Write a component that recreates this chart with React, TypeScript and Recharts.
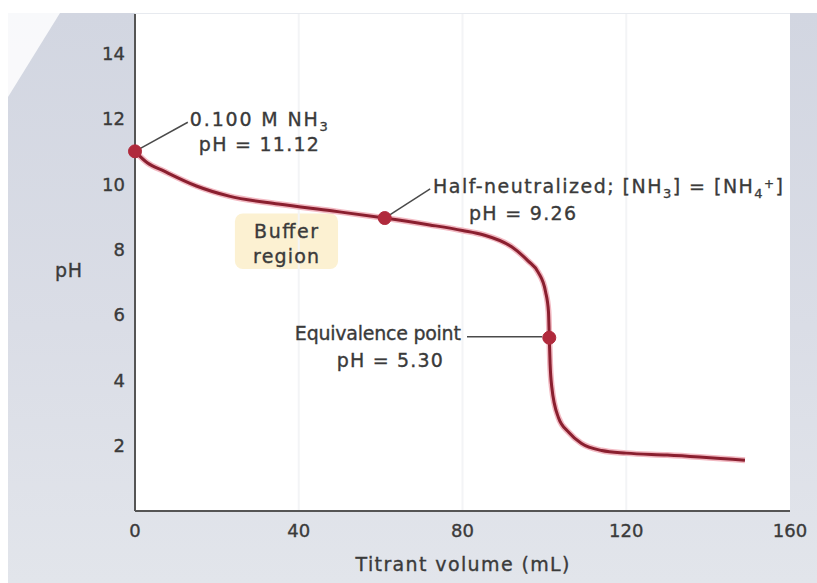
import React from "react";
import {
  LineChart,
  Line,
  XAxis,
  YAxis,
  CartesianGrid,
  ReferenceDot,
  ReferenceLine,
  ReferenceArea,
} from "recharts";

// titration curve (mL of titrant, pH)
const volume = [0, 3, 7, 15, 23, 35, 48, 61, 72, 80, 85, 92, 96, 98.5, 100.3, 101, 101.2, 101.4, 101.8, 103.4, 106, 109, 114, 120, 130, 149];
const ph = [11.0, 10.65, 10.4, 9.94, 9.63, 9.39, 9.18, 8.96, 8.75, 8.58, 8.45, 8.08, 7.65, 7.3, 6.7, 6.1, 5.3, 4.5, 3.8, 2.87, 2.4, 2.07, 1.85, 1.77, 1.71, 1.55];

// marked points: start, half-neutralized, equivalence
const keyVolume = [0, 61, 101.2];
const keyPh = [11.0, 8.96, 5.3];

const xTicks = [0, 40, 80, 120, 160];
const yTicks = [2, 4, 6, 8, 10, 12, 14];

const data = volume.map((v, i) => ({ v, ph: ph[i] }));

const FONT = "'DejaVu Sans', Verdana, sans-serif";
const TEXT = "#3a3a3a";
const CURVE = "#8a1f2f";
const DOT = "#b02a3c";
const LEADER = "#4a4a4a";

const txt = {
  fontFamily: FONT,
  fontSize: 19,
  fill: TEXT,
  stroke: TEXT,
  strokeWidth: 0.35,
  lengthAdjust: "spacing",
} as const;

const Label1 = (p: any) => (
  <g>
    <text x={p.cx} y={p.cy} textLength={138} {...txt}>
      0.100 M NH<tspan dy={5} fontSize={13}>3</tspan>
    </text>
    <text x={p.cx + 9} y={p.cy + 25} textLength={120} {...txt}>pH = 11.12</text>
  </g>
);

const Label2 = (p: any) => (
  <g>
    <text x={p.cx} y={p.cy} textLength={350} {...txt}>
      Half-neutralized; [NH<tspan dy={5} fontSize={13}>3</tspan>
      <tspan dy={-5}>] = [NH</tspan>
      <tspan dy={5} fontSize={13}>4</tspan>
      <tspan dy={-10} fontSize={12}>+</tspan>
      <tspan dy={5}>]</tspan>
    </text>
    <text x={p.cx + 36} y={p.cy + 27} textLength={107} {...txt}>pH = 9.26</text>
  </g>
);

const Label3 = (p: any) => (
  <g>
    <text x={p.cx} y={p.cy} textAnchor="end" textLength={166} {...txt}>Equivalence point</text>
    <text x={p.cx - 18} y={p.cy + 27} textAnchor="end" textLength={106} {...txt}>pH = 5.30</text>
  </g>
);

const BufferLabel = (p: any) => (
  <g>
    <text x={p.cx} y={p.cy} textAnchor="middle" textLength={64} {...txt}>Buffer</text>
    <text x={p.cx} y={p.cy + 25} textAnchor="middle" textLength={66} {...txt}>region</text>
  </g>
);

const XTitle = (p: any) => {
  const vb = p.viewBox || {};
  return (
    <text x={vb.x + vb.width / 2} y={vb.y + vb.height - 12} textAnchor="middle" textLength={214} {...txt}>
      Titrant volume (mL)
    </text>
  );
};

const YTitle = (p: any) => {
  const vb = p.viewBox || {};
  return (
    <text x={47} y={vb.y + vb.height / 2 + 14} textLength={27} {...txt}>
      pH
    </text>
  );
};

const XTick = (p: any) => (
  <text x={p.x} y={p.y} dy="0.71em" textAnchor="middle" fontFamily={FONT} fontSize={18} fill={TEXT} stroke={TEXT} strokeWidth={0.35}>
    {p.payload.value}
  </text>
);

const YTick = (p: any) => (
  <text x={p.x} y={p.y} dy="0.36em" textAnchor="end" fontFamily={FONT} fontSize={18} fill={TEXT} stroke={TEXT} strokeWidth={0.35}>
    {p.payload.value}
  </text>
);

const App = () => {
  return (
    <div
      style={{
        position: "absolute",
        left: 8,
        top: 13,
        width: 809,
        height: 570,
        background: "linear-gradient(180deg, #d2d6e1 0%, #dadde6 55%, #e2e5eb 100%)",
      }}
    >
      <svg width={809} height={570} style={{ position: "absolute", left: 0, top: 0 }}>
        <polygon points="0,0 52,0 0,84" fill="#ffffff" opacity={0.85} />
      </svg>
      <div style={{ position: "absolute", left: 0, top: 0 }}>
        <LineChart width={809} height={570} data={data} margin={{ top: 1, right: 27, left: 0, bottom: 0 }}>
          <ReferenceArea x1={0} x2={160} y1={0} y2={15.2} fill="#ffffff" fillOpacity={1} stroke="none" />
          <CartesianGrid stroke="#eef0f3" strokeWidth={1.5} horizontal vertical={false} />
          <XAxis
            dataKey="v"
            type="number"
            domain={[0, 160]}
            ticks={xTicks}
            tickLine={false}
            tickMargin={7}
            axisLine={{ stroke: "#555", strokeWidth: 2 }}
            tick={XTick}
            height={72}
            label={{ value: "Titrant volume (mL)", content: XTitle }}
          />
          <YAxis
            type="number"
            domain={[0, 15.2]}
            ticks={yTicks}
            tickLine={false}
            tickMargin={4}
            axisLine={{ stroke: "#555", strokeWidth: 2 }}
            tick={YTick}
            width={127}
            label={{ value: "pH", content: YTitle }}
          />
          {[40, 80, 120].map((v) => (
            <ReferenceLine key={v} x={v} stroke="#f3f4f6" strokeWidth={2} />
          ))}
          <ReferenceArea x1={24.4} x2={49.6} y1={7.4} y2={9.1} fill="#fcf1d2" fillOpacity={1} stroke="none" radius={8} />
          <ReferenceDot x={36.9} y={8.35} r={0} shape={BufferLabel} />

          <ReferenceLine segment={[{ x: 0, y: 11.0 }, { x: 12.9, y: 11.89 }]} stroke={LEADER} strokeWidth={1.5} />
          <ReferenceLine segment={[{ x: 61, y: 8.96 }, { x: 72.1, y: 9.85 }]} stroke={LEADER} strokeWidth={1.5} />
          <ReferenceLine segment={[{ x: 81.1, y: 5.33 }, { x: 99.5, y: 5.33 }]} stroke={LEADER} strokeWidth={1.5} />

          <Line dataKey="ph" type="monotone" stroke="#f2b9c2" strokeWidth={6} dot={false} isAnimationActive={false} />
          <Line dataKey="ph" type="monotone" stroke={CURVE} strokeWidth={3} dot={false} isAnimationActive={false} />

          {keyVolume.map((v, i) => (
            <ReferenceDot key={v} x={v} y={keyPh[i]} r={6.5} fill={DOT} stroke={DOT} ifOverflow="visible" />
          ))}

          <ReferenceDot x={13.4} y={11.77} r={0} shape={Label1} ifOverflow="visible" />
          <ReferenceDot x={72.8} y={9.73} r={0} shape={Label2} ifOverflow="visible" />
          <ReferenceDot x={79.6} y={5.24} r={0} shape={Label3} ifOverflow="visible" />
        </LineChart>
      </div>
    </div>
  );
};

export default App;
